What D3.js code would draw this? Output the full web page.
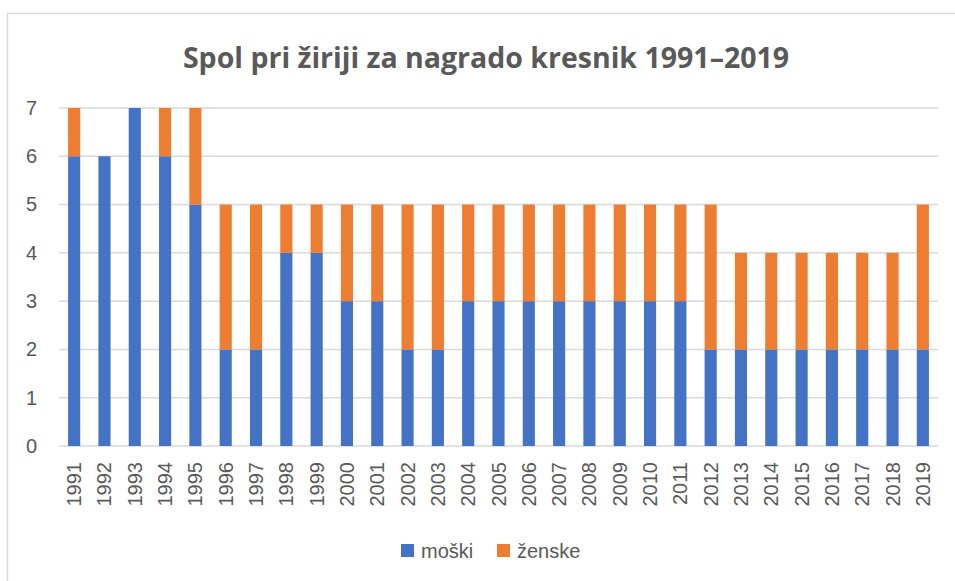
<!DOCTYPE html>
<html>
<head>
<meta charset="utf-8">
<script src="https://cdn.jsdelivr.net/npm/d3@7"></script>
<style>
  body{margin:0;background:#fff;}
  svg{display:block;font-family:"Open Sans","Liberation Sans",sans-serif;}
</style>
</head>
<body>
<svg id="display" width="955" height="581"></svg>
<script>
// data
const years=["1991","1992","1993","1994","1995","1996","1997","1998","1999","2000",
    "2001","2002","2003","2004","2005","2006","2007","2008","2009","2010",
    "2011","2012","2013","2014","2015","2016","2017","2018","2019"];
const moski=[6,6,7,6,5,2,2,4,4,3,3,2,2,3,3,3,3,3,3,3,3,2,2,2,2,2,2,2,2];
const zenske=[1,0,0,1,2,3,3,1,1,2,2,3,3,2,2,2,2,2,2,2,2,3,2,2,2,2,2,2,3];
const series_names=["moški","ženske"];
const series_colors=["#4472c4","#ed7d31"];
const y_ticks=[0,1,2,3,4,5,6,7];
const title_text="Spol pri žiriji za nagrado kresnik 1991–2019";

const display=d3.select("#display");
const text_color="#595959";

// chart border
display.append("rect")
    .attr("x",7.5).attr("y",13.5)
    .attr("width",1000).attr("height",700)
    .attr("fill","none")
    .attr("stroke","#d9d9d9")
    .attr("stroke-width",1.5);

// title
display.append("text")
    .attr("x",486).attr("y",68)
    .style("font-family","'Open Sans','Liberation Sans',sans-serif")
    .style("font-size","28.5px")
    .style("font-weight","bold")
    .style("fill",text_color)
    .style("text-anchor","middle")
    .text(title_text);

// scales
const x=d3.scaleBand().domain(years).range([59,938]).paddingInner(0.6).paddingOuter(0.3);
const y=d3.scaleLinear().domain([0,7]).range([446,108]);

// grid lines
for (const t of y_ticks){
    display.append("line")
        .attr("x1",59).attr("x2",938)
        .attr("y1",y(t)).attr("y2",y(t))
        .attr("stroke","#d9d9d9")
        .attr("stroke-width",1.5);
}

// y axis labels
const y_axis=display.append("g")
    .attr("transform","translate(37,0)")
    .call(d3.axisLeft(y).tickValues(y_ticks).tickFormat(d3.format("d")).tickSize(0).tickPadding(0));
y_axis.select(".domain").remove();
y_axis.selectAll("text")
    .style("font-size","20px")
    .style("font-family","'Liberation Sans',sans-serif")
    .style("fill",text_color);

// stacked bars
const table=years.map((yr,i)=>({year:yr,"moški":moski[i],"ženske":zenske[i]}));
const stack=d3.stack().keys(series_names)(table);
stack.forEach((layer,k)=>{
    display.append("g")
        .attr("fill",series_colors[k])
        .selectAll("rect")
        .data(layer)
        .join("rect")
        .attr("x",d=>x(d.data.year))
        .attr("width",x.bandwidth())
        .attr("y",d=>y(d[1]))
        .attr("height",d=>y(d[0])-y(d[1]));
});

// x axis labels (rotated)
const x_axis=display.append("g")
    .attr("transform","translate(0,446)")
    .call(d3.axisBottom(x).tickSize(0).tickPadding(0));
x_axis.select(".domain").remove();
x_axis.selectAll("text")
    .style("font-size","20px")
    .style("font-family","'Liberation Sans',sans-serif")
    .style("fill",text_color)
    .style("text-anchor","end")
    .attr("dy","0.35em")
    .attr("transform","translate(0,16) rotate(-90)");

// legend
const legend_x=[401,497];
series_names.forEach((name,k)=>{
    display.append("rect")
        .attr("x",legend_x[k]).attr("y",544)
        .attr("width",13).attr("height",13)
        .attr("fill",series_colors[k]);
    display.append("text")
        .attr("x",legend_x[k]+20).attr("y",558)
        .style("font-size","20px")
        .style("font-family","'Liberation Sans',sans-serif")
        .style("fill",text_color)
        .text(name);
});
</script>
</body>
</html>
